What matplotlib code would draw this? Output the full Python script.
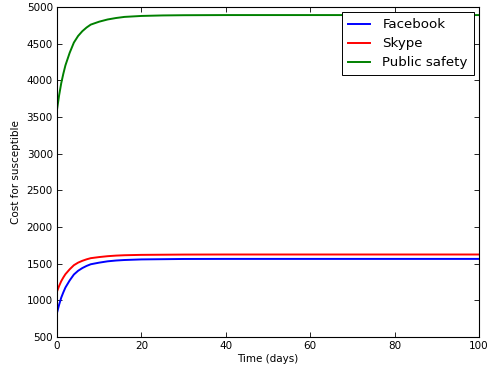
import numpy as np
import matplotlib.pyplot as plt

# values
t = [0, 0.5, 1, 1.5, 2, 3, 4, 5, 6, 7, 8, 10, 12, 14, 16, 20, 25, 30,
     40, 50, 60, 70, 80, 90, 100]
facebook = [830, 940, 1036, 1109, 1175, 1271, 1352, 1403, 1440, 1469, 1492,
            1514, 1532, 1543, 1550, 1558, 1561, 1564, 1565, 1565, 1565, 1565,
            1565, 1565, 1565]
skype = [1120, 1196, 1261, 1312, 1357, 1423, 1479, 1514, 1539, 1559, 1575,
         1590, 1602, 1610, 1615, 1620, 1622, 1624, 1625, 1625, 1625, 1625,
         1625, 1625, 1625]
public_safety = [3600, 3795, 3960, 4090, 4205, 4375, 4515, 4605, 4670, 4720,
                 4760, 4800, 4830, 4850, 4865, 4878, 4885, 4888, 4890, 4890,
                 4890, 4890, 4890, 4890, 4890]

fig = plt.figure(figsize=(4.91, 3.67), dpi=100)
ax = fig.add_axes([57 / 491, 1 - 337 / 367, (479 - 57) / 491, (337 - 7) / 367])

ax.plot(t, facebook, color="b", lw=1.4, label="Facebook")
ax.plot(t, skype, color="r", lw=1.4, label="Skype")
ax.plot(t, public_safety, color=(0, 0.5, 0), lw=1.4, label="Public safety")

ax.set_xlim(0, 100)
ax.set_ylim(500, 5000)
ax.set_xticks(np.arange(0, 101, 20))
ax.set_yticks(np.arange(500, 5001, 500))
ax.tick_params(direction="in", top=True, right=True, labelsize=7.5,
               length=3.5, width=0.6, pad=3)
for s in ax.spines.values():
    s.set_linewidth(0.8)

ax.set_xlabel("Time (days)", fontsize=7.5, labelpad=2)
ax.set_ylabel("Cost for susceptible", fontsize=7.5, labelpad=4)

leg = ax.legend(loc="upper right", fontsize=9.6, fancybox=False,
                framealpha=1, edgecolor="black", borderaxespad=0.4,
                borderpad=0.45, handlelength=1.65, handletextpad=0.95,
                labelspacing=0.45)
leg.get_frame().set_linewidth(0.7)

fig.savefig("out.png", dpi=100)
